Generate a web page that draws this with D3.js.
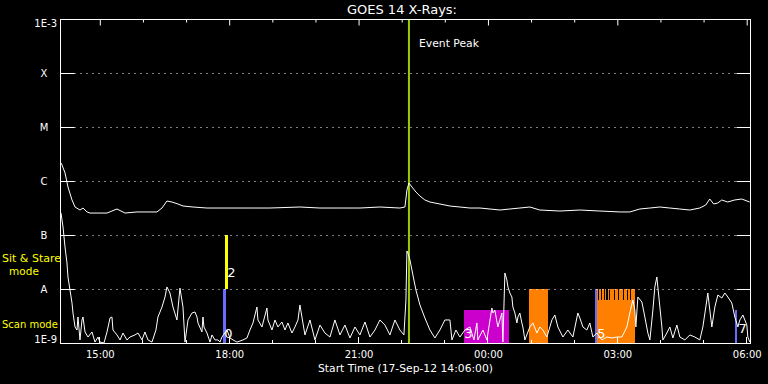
<!DOCTYPE html>
<html><head><meta charset="utf-8">
<script src="https://cdn.jsdelivr.net/npm/d3@7"></script>
<style>html,body{margin:0;padding:0;background:#000;} svg{display:block;}</style>
</head><body>
<svg id="c" width="768" height="384"></svg>
<script>
// ---------- DATA ----------
const chartTitle = "GOES 14 X-Rays:";
const xAxisTitle = "Start Time (17-Sep-12 14:06:00)";
const levelLabels = ["1E-9", "A", "B", "C", "M", "X", "1E-3"];
const levelValues = [1e-9, 1e-8, 1e-7, 1e-6, 1e-5, 1e-4, 1e-3];
// minutes since 14:06
const majorTickMinutes = [54, 234, 414, 594, 774, 954];
const majorTickLabels = ["15:00", "18:00", "21:00", "00:00", "03:00", "06:00"];
const minorTickMinutes = [54, 114, 174, 234, 294, 354, 414, 474, 534, 594, 654, 714, 774, 834, 894, 954];
const timeDomain = [0, 960];

// GOES long channel (1-8 A)
const longTimes = [0.7, 2.1, 6.3, 10.4, 16, 20.2, 27.1, 31.3, 36.9, 41, 55, 64.7, 71.6, 78.6, 89.7, 106.4, 120.3, 134.2, 141.2, 148.1, 155.1, 163.4, 170.4, 184.3, 203.8, 217.7, 235.8, 263.6, 291.4, 333.1, 361, 388.8, 416.6, 444.4, 472.2, 479.2, 482, 484.8, 489, 494.5, 500.1, 507, 514, 527.9, 541.8, 555.7, 569.6, 583.5, 597.4, 611.3, 625.2, 639.1, 653, 666.9, 694.8, 722.6, 750.4, 778.2, 792.1, 806, 819.9, 833.8, 847.7, 861.6, 875.5, 889.4, 897.7, 903.3, 908.8, 914.4, 920, 928.3, 938, 947.8, 958.9];
const longFlux = [2.16e-6, 1.98e-6, 1.41e-6, 7.74e-7, 4.45e-7, 3.30e-7, 2.90e-7, 3.16e-7, 2.67e-7, 2.55e-7, 2.55e-7, 2.55e-7, 2.78e-7, 3.03e-7, 2.55e-7, 2.67e-7, 2.67e-7, 2.67e-7, 3.16e-7, 4.26e-7, 4.08e-7, 3.75e-7, 3.44e-7, 3.30e-7, 3.16e-7, 3.16e-7, 3.16e-7, 3.16e-7, 3.16e-7, 3.30e-7, 3.16e-7, 3.16e-7, 3.16e-7, 3.30e-7, 3.16e-7, 3.30e-7, 6.81e-7, 9.18e-7, 7.74e-7, 6.25e-7, 5.27e-7, 4.45e-7, 4.08e-7, 3.75e-7, 3.44e-7, 3.30e-7, 3.16e-7, 3.16e-7, 3.03e-7, 2.90e-7, 3.03e-7, 3.16e-7, 3.30e-7, 2.90e-7, 2.78e-7, 2.90e-7, 2.78e-7, 2.67e-7, 2.67e-7, 3.03e-7, 3.16e-7, 3.30e-7, 3.16e-7, 3.03e-7, 2.90e-7, 3.16e-7, 3.59e-7, 4.64e-7, 3.75e-7, 3.91e-7, 4.45e-7, 4.08e-7, 4.45e-7, 4.64e-7, 4.08e-7];

// GOES short channel (0.5-4 A)
const shortTimes = [0.7, 3.5, 6.3, 9.0, 10.4, 13.2, 16, 17.4, 20.2, 23, 24.3, 27.1, 29.9, 31.3, 34.1, 38.3, 43.8, 48, 52.2, 54.9, 60.5, 64.7, 68.9, 71.6, 73, 78.6, 82.8, 86.9, 92.5, 96.7, 103.6, 107.8, 113.4, 117.5, 121.7, 127.3, 132.8, 135.6, 141.2, 145.4, 148.1, 152.3, 156.5, 162, 166.2, 170.4, 173.2, 177.4, 182.9, 187.1, 189.9, 191.3, 196.8, 198.2, 199.6, 203.8, 208, 210.7, 214.9, 219.1, 221.9, 224.6, 231.6, 235.8, 240, 245.5, 253.9, 259.4, 263.6, 267.8, 273.3, 274.7, 280.3, 287.2, 288.6, 294.2, 298.4, 302.5, 308.1, 312.3, 316.4, 322, 326.2, 330.4, 333.1, 340.1, 347.1, 354, 361, 367.9, 374.9, 381.8, 388.8, 395.7, 402.7, 409.7, 416.6, 423.6, 430.5, 437.5, 444.4, 451.4, 458.3, 465.3, 472.2, 477.8, 480.6, 482, 483.4, 486.2, 490.3, 494.5, 500.1, 507, 514, 520.9, 527.9, 534.8, 541.8, 544.6, 550.1, 555.7, 562.6, 569.6, 575.2, 579.3, 580.7, 587.7, 593.2, 600.2, 601.6, 604.3, 608.5, 614.1, 615.5, 618.3, 621, 622.5, 625.2, 628, 629.4, 632.2, 635, 636.4, 639.1, 641.9, 643.3, 646.1, 653, 657.2, 662.8, 666.9, 671.1, 676.7, 683.7, 687.8, 692, 699, 705.9, 712.9, 719.8, 722.6, 726.8, 732.3, 736.5, 740.7, 746.2, 753.2, 760.2, 767.1, 774.1, 781, 788, 792.1, 796.3, 799.1, 800.5, 803.3, 808.9, 813, 817.2, 820, 824.2, 826.9, 829.7, 831.1, 833.9, 836.7, 838.1, 843.6, 847.8, 852, 857.6, 861.7, 868.7, 875.6, 882.6, 889.5, 893.7, 899.3, 900.6, 906.2, 910.4, 914.6, 920.1, 924.3, 928.5, 934, 938.2, 942.4, 945.2, 949.4, 954.9, 956.3, 959.1];
const shortFlux = [2.55e-7, 1.41e-7, 6.0e-8, 3.03e-8, 1.67e-8, 9.58e-9, 5.50e-9, 3.59e-9, 1.98e-9, 1.74e-9, 3.03e-9, 1.14e-9, 2.67e-9, 3.03e-9, 1.60e-9, 1.29e-9, 1.60e-9, 1.04e-9, 1.29e-9, 1.04e-9, 0.9e-9, 1.60e-9, 2.90e-9, 3.03e-9, 1.74e-9, 1.41e-9, 1.14e-9, 1.53e-9, 1.14e-9, 1.29e-9, 1.41e-9, 1.53e-9, 1.14e-9, 1.60e-9, 1.14e-9, 1.04e-9, 1.74e-9, 3.03e-9, 4.64e-9, 7.11e-9, 1.09e-8, 8.43e-9, 4.64e-9, 2.67e-9, 1.04e-8, 4.64e-9, 1.04e-9, 2.67e-9, 3.59e-9, 3.75e-9, 3.03e-9, 2.35e-9, 1.60e-9, 3.03e-9, 1.98e-9, 1.53e-9, 1.04e-9, 1.41e-9, 1.14e-9, 1.14e-9, 1.04e-9, 1.29e-9, 1.74e-9, 1.24e-9, 1.14e-9, 1.04e-9, 1.14e-9, 1.24e-9, 1.74e-9, 2.35e-9, 4.64e-9, 2.67e-9, 1.98e-9, 4.45e-9, 2.67e-9, 1.74e-9, 2.67e-9, 1.98e-9, 2.45e-9, 1.74e-9, 2.35e-9, 1.53e-9, 1.98e-9, 2.67e-9, 5.06e-9, 1.41e-9, 2.67e-9, 1.14e-9, 2.15e-9, 1.53e-9, 1.29e-9, 2.67e-9, 1.41e-9, 2.15e-9, 1.24e-9, 1.98e-9, 1.41e-9, 2.45e-9, 1.29e-9, 1.74e-9, 2.67e-9, 2.15e-9, 1.41e-9, 2.67e-9, 1.74e-9, 1.41e-9, 6.25e-9, 5.06e-8, 4.64e-8, 3.44e-8, 1.82e-8, 9.58e-9, 5.06e-9, 2.90e-9, 1.74e-9, 1.24e-9, 1.74e-9, 2.67e-9, 2.67e-9, 1.14e-9, 1.74e-9, 1.29e-9, 1.74e-9, 1.98e-9, 1.14e-9, 2.35e-9, 1.14e-9, 1.74e-9, 1.14e-9, 4.45e-9, 3.59e-9, 4.08e-9, 1.98e-9, 3.59e-9, 1.04e-9, 1.98e-8, 1.47e-8, 1.09e-8, 8.43e-9, 7.11e-9, 4.64e-9, 3.59e-9, 2.35e-9, 3.03e-9, 3.59e-9, 2.35e-9, 1.98e-9, 1.14e-9, 1.98e-9, 2.35e-9, 1.53e-9, 1.98e-9, 1.74e-9, 1.29e-9, 2.67e-9, 3.30e-9, 1.98e-9, 1.29e-9, 1.74e-9, 1.29e-9, 3.59e-9, 2.90e-9, 1.98e-9, 1.74e-9, 2.35e-9, 1.29e-9, 1.53e-9, 1.14e-9, 1.29e-9, 1.24e-9, 1.29e-9, 1.29e-9, 1.98e-9, 3.59e-9, 6.25e-9, 4.08e-9, 1.98e-9, 7.11e-9, 5.74e-9, 3.03e-9, 1.53e-9, 1.14e-9, 4.08e-9, 1.09e-8, 1.67e-8, 1.09e-8, 4.64e-9, 1.98e-9, 1.14e-9, 1.53e-9, 1.98e-9, 1.24e-9, 2.15e-9, 1.29e-9, 1.14e-9, 1.41e-9, 1.29e-9, 1.14e-9, 1.98e-9, 6.25e-9, 8.43e-9, 1.98e-9, 4.64e-9, 7.74e-9, 6.81e-9, 8.43e-9, 7.11e-9, 5.50e-9, 3.03e-9, 1.98e-9, 2.67e-9, 3.30e-9, 2.15e-9, 1.29e-9, 1.04e-9];

// Instrument observing blocks
const obsStart = [226, 229, 561, 651.5, 743.5, 746.2, 938.3];
const obsEnd = [230.2, 233, 624, 678, 746.2, 799, 941.4];
const obsLow = [1e-9, 1e-8, 1e-9, 1e-9, 1e-9, 1e-9, 1e-9];
const obsHigh = [1e-8, 1e-7, 4.08e-9, 1e-8, 1e-8, 1e-8, 4.08e-9];
const obsColors = ["#6b6bff", "#ffff00", "#cc00cc", "#ff8000", "#6b6bff", "#ff8000", "#6b6bff"];
const gapMinutes = [747.7, 751.9, 756.1, 759.5, 763, 770, 775.5, 782.5, 788, 792.1];
const gapDepth = 6.25e-9;
const obsLabelText = ["0", "2", "3", "5", "7"];
const obsLabelTime = [233.7, 237.9, 567.5, 752.5, 949];
const obsLabelFlux = [1.24e-9, 1.67e-8, 1.24e-9, 1.24e-9, 1.53e-9];

const eventPeakMinute = 484.8;
const eventLabel = "Event Peak";
const modeLabels = ["Sit & Stare", "mode", "Scan mode"];

// ---------- DRAW ----------
const svg = d3.select("#c");
svg.append("rect").attr("width", 768).attr("height", 384).attr("fill", "#000");
const L = 60.5, R = 750.5, T = 19, B = 343;
const x = d3.scaleLinear().domain(timeDomain).range([L, R]);
const y = d3.scaleLog().domain([1e-9, 1e-3]).range([B, T]).clamp(true);
const font = "DejaVu Sans, sans-serif";

const plot = svg.append("g");
svg.append("clipPath").attr("id", "clip").append("rect")
  .attr("x", L).attr("y", T).attr("width", R - L).attr("height", B - T);

// observation blocks
const obs = obsStart.map((s, i) => ({s, e: obsEnd[i], lo: obsLow[i], hi: obsHigh[i], c: obsColors[i]}));
plot.selectAll("rect.obs").data(obs).enter().append("rect").attr("class", "obs")
  .attr("x", d => x(d.s)).attr("width", d => x(d.e) - x(d.s))
  .attr("y", d => y(d.hi)).attr("height", d => y(d.lo) - y(d.hi))
  .attr("fill", d => d.c).attr("shape-rendering", "crispEdges");
plot.selectAll("rect.gap").data(gapMinutes).enter().append("rect").attr("class", "gap")
  .attr("x", d => x(d)).attr("width", 1.2)
  .attr("y", y(1e-8)).attr("height", y(gapDepth) - y(1e-8))
  .attr("fill", "#000").attr("shape-rendering", "crispEdges");

// gridlines
const gridLevels = levelValues.slice(1, 6);
const yl = d => Math.round(y(d)) + 0.5;
plot.selectAll("line.grid").data(gridLevels).enter().append("line").attr("class", "grid")
  .attr("x1", L + 14).attr("x2", R - 14).attr("y1", yl).attr("y2", yl)
  .attr("stroke", "#fff").attr("stroke-dasharray", "1,5");
plot.selectAll("line.lt").data(gridLevels).enter().append("line").attr("class", "lt")
  .attr("x1", L).attr("x2", L + 14).attr("y1", yl).attr("y2", yl).attr("stroke", "#fff");
plot.selectAll("line.rt").data(gridLevels).enter().append("line").attr("class", "rt")
  .attr("x1", R - 14).attr("x2", R).attr("y1", yl).attr("y2", yl).attr("stroke", "#fff");

// event peak line
plot.append("line")
  .attr("x1", x(eventPeakMinute)).attr("x2", x(eventPeakMinute))
  .attr("y1", T).attr("y2", B)
  .attr("stroke", "#99cc00").attr("stroke-width", 2);
svg.append("text").attr("x", x(eventPeakMinute) + 10).attr("y", 47)
  .attr("fill", "#fff").attr("font-family", font).attr("font-size", 11)
  .attr("textLength", 60).attr("lengthAdjust", "spacingAndGlyphs")
  .text(eventLabel);

// curves
const line = d3.line().x(d => x(d[0])).y(d => y(Math.max(d[1], 1e-9)));
const gCurves = plot.append("g").attr("clip-path", "url(#clip)");
gCurves.append("path").datum(longTimes.map((t, i) => [t, longFlux[i]]))
  .attr("d", line).attr("fill", "none").attr("stroke", "#fff").attr("stroke-width", 1);
gCurves.append("path").datum(shortTimes.map((t, i) => [t, shortFlux[i]]))
  .attr("d", line).attr("fill", "none").attr("stroke", "#fff").attr("stroke-width", 1);

// observation labels
svg.selectAll("text.ol").data(obsLabelText).enter().append("text").attr("class", "ol")
  .attr("x", (d, i) => x(obsLabelTime[i])).attr("y", (d, i) => y(obsLabelFlux[i]))
  .attr("text-anchor", "middle").attr("fill", "#fff")
  .attr("font-family", font).attr("font-size", 13).text(d => d);

// frame
svg.append("rect").attr("x", L).attr("y", T + 0.5).attr("width", R - L).attr("height", B - T)
  .attr("fill", "none").attr("stroke", "#fff").attr("stroke-width", 1);

// top axis ticks (inward)
const topAxis = d3.axisTop(x).tickValues(minorTickMinutes).tickSize(-3).tickFormat("");
const gTop = svg.append("g").attr("transform", `translate(0.5,${T + 0.5})`).call(topAxis);
gTop.select(".domain").remove();
gTop.selectAll(".tick line").attr("stroke", "#fff")
  .attr("y2", d => majorTickMinutes.includes(d) ? 6 : 3);

// bottom axis
const botAxis = d3.axisBottom(x).tickValues(majorTickMinutes)
  .tickFormat((d, i) => majorTickLabels[i]).tickSize(0).tickPadding(8);
const gBot = svg.append("g").attr("transform", `translate(0.5,${B})`).call(botAxis);
gBot.select(".domain").remove();
gBot.selectAll("text").attr("fill", "#fff").attr("font-family", font).attr("font-size", 10);
svg.selectAll("line.bt").data(minorTickMinutes).enter().append("line").attr("class", "bt")
  .attr("x1", d => Math.round(x(d)) + 0.5).attr("x2", d => Math.round(x(d)) + 0.5)
  .attr("y1", B).attr("y2", d => B - (majorTickMinutes.includes(d) ? 6 : 3))
  .attr("stroke", "#fff");

// left labels
svg.selectAll("text.yl").data(levelLabels).enter().append("text").attr("class", "yl")
  .attr("x", (d, i) => (i === 0 || i === 6) ? 57 : 44)
  .attr("y", (d, i) => i === 0 ? y(levelValues[i]) : (i === 6 ? y(levelValues[i]) + 8 : y(levelValues[i]) + 4))
  .attr("text-anchor", (d, i) => (i === 0 || i === 6) ? "end" : "middle")
  .attr("fill", "#ffffff").attr("font-family", font).attr("font-size", 10)
  .text(d => d);

// mode labels
svg.append("text").attr("x", 2).attr("y", 262).attr("fill", "#ffff00")
  .attr("font-family", font).attr("font-size", 11).text(modeLabels[0]);
svg.append("text").attr("x", 24).attr("y", 275).attr("text-anchor", "middle").attr("fill", "#ffff00")
  .attr("font-family", font).attr("font-size", 10.5).text(modeLabels[1]);
svg.append("text").attr("x", 2).attr("y", 328).attr("fill", "#ffff00")
  .attr("font-family", font).attr("font-size", 10).text(modeLabels[2]);

// titles
svg.append("text").attr("x", 347).attr("y", 14).attr("fill", "#fff")
  .attr("font-family", font).attr("font-size", 12)
  .attr("textLength", 110).attr("lengthAdjust", "spacingAndGlyphs").text(chartTitle);
svg.append("text").attr("x", 318).attr("y", 372).attr("fill", "#fff")
  .attr("font-family", font).attr("font-size", 11)
  .attr("textLength", 175).attr("lengthAdjust", "spacingAndGlyphs").text(xAxisTitle);
</script>
</body></html>
